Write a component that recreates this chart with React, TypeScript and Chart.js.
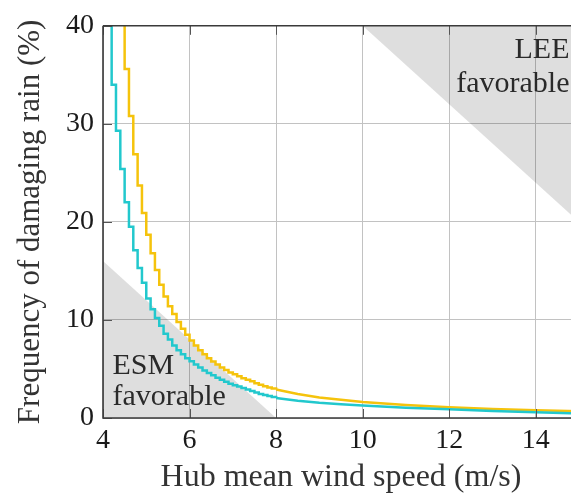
import React, { useEffect, useRef } from 'react';
import { Chart, registerables } from 'chart.js';

Chart.register(...registerables);

// Wind speed (m/s) at the start of each 0.1 m/s step
const stepSpeeds = [4.1, 4.2, 4.3, 4.4, 4.5, 4.6, 4.7, 4.8, 4.9, 5.0, 5.1, 5.2, 5.3, 5.4, 5.5, 5.6, 5.7, 5.8, 5.9, 6.0,
  6.1, 6.2, 6.3, 6.4, 6.5, 6.6, 6.7, 6.8, 6.9, 7.0, 7.1, 7.2, 7.3, 7.4, 7.5, 7.6, 7.7, 7.8, 7.9, 8.0];
// Frequency of damaging rain (%) - cyan series, stepped part
const cyanStep = [42, 34.0, 29.3, 25.4, 22.0, 19.5, 17.1, 15.3, 13.8, 12.2, 11.1, 10.2, 9.4, 8.6, 8.0, 7.4, 6.9, 6.5, 6.1, 5.8,
  5.45, 5.15, 4.85, 4.6, 4.35, 4.1, 3.9, 3.7, 3.5, 3.35, 3.2, 3.05, 2.9, 2.75, 2.6, 2.45, 2.35, 2.25, 2.15, 2.05];
// Frequency of damaging rain (%) - gold series, stepped part
const goldStep = [null, null, null, 44, 35.6, 30.8, 26.9, 23.7, 20.9, 18.7, 16.8, 15.1, 13.6, 12.4, 11.4, 10.6, 9.8, 9.1, 8.5, 7.9,
  7.4, 6.9, 6.5, 6.1, 5.75, 5.45, 5.15, 4.9, 4.65, 4.45, 4.25, 4.05, 3.9, 3.75, 3.55, 3.4, 3.25, 3.1, 3.0, 2.9];

// Smooth tail at higher wind speeds
const tailSpeeds = [8.0, 8.5, 9.0, 9.5, 10, 11, 12, 13, 14, 15];
const cyanTail = [2.05, 1.75, 1.55, 1.4, 1.28, 1.05, 0.88, 0.72, 0.58, 0.45];
const goldTail = [2.9, 2.45, 2.1, 1.85, 1.62, 1.32, 1.1, 0.93, 0.8, 0.7];

// Shaded regions (boundary lines)
const esmSpeeds = [4, 8];
const esmBound = [16, 0];
const leeSpeeds = [10, 15];
const leeBound = [40, 20];

const xTicks = [4, 6, 8, 10, 12, 14];
const yTicks = [0, 10, 20, 30, 40];

const CYAN = '#22c8cd';
const GOLD = '#f5c30c';
const SHADE = 'rgba(0,0,0,0.13)';
const FONT = '"Liberation Serif", "Times New Roman", serif';

const zip = (xs: number[], ys: (number | null)[]) => xs.map((x, i) => ({ x, y: ys[i] }));

const framePlugin = {
  id: 'frame',
  afterDatasetsDraw(chart: any) {
    const { ctx, chartArea: a, scales } = chart;
    const sx = scales.x;
    const sy = scales.y;
    ctx.save();
    // annotations
    ctx.fillStyle = '#2a2a2a';
    ctx.font = `30px ${FONT}`;
    ctx.textBaseline = 'alphabetic';
    ctx.textAlign = 'left';
    ctx.fillText('ESM', sx.getPixelForValue(4.22), sy.getPixelForValue(4.5));
    ctx.fillText('favorable', sx.getPixelForValue(4.22), sy.getPixelForValue(1.3));
    ctx.textAlign = 'right';
    ctx.fillText('LEE', sx.getPixelForValue(14.78), sy.getPixelForValue(36.7));
    ctx.fillText('favorable', sx.getPixelForValue(14.78), sy.getPixelForValue(33.2));

    // tick marks (inward)
    ctx.strokeStyle = '#555';
    ctx.lineWidth = 1;
    ctx.beginPath();
    xTicks.forEach((v) => {
      const px = Math.round(sx.getPixelForValue(v)) + 0.5;
      ctx.moveTo(px, a.bottom);
      ctx.lineTo(px, a.bottom - 9);
      ctx.moveTo(px, a.top);
      ctx.lineTo(px, a.top + 9);
    });
    yTicks.forEach((v) => {
      const py = Math.round(sy.getPixelForValue(v)) + 0.5;
      ctx.moveTo(a.left, py);
      ctx.lineTo(a.left + 9, py);
    });
    ctx.stroke();

    // axis frame
    ctx.strokeStyle = '#3a3a3a';
    ctx.lineWidth = 1.6;
    ctx.beginPath();
    ctx.moveTo(a.left, a.top);
    ctx.lineTo(a.right + 2, a.top);
    ctx.moveTo(a.left, a.top);
    ctx.lineTo(a.left, a.bottom);
    ctx.lineTo(a.right + 2, a.bottom);
    ctx.stroke();
    ctx.restore();
  },
};

export default function App() {
  const ref = useRef<HTMLCanvasElement | null>(null);

  useEffect(() => {
    if (!ref.current) return;
    const chart = new Chart(ref.current, {
      type: 'line',
      data: {
        datasets: [
          {
            label: 'cyan',
            data: zip(stepSpeeds, cyanStep),
            borderColor: CYAN,
            borderWidth: 2.5,
            pointRadius: 0,
            stepped: true,
            fill: false,
            order: 0,
          },
          {
            label: 'cyan tail',
            data: zip(tailSpeeds, cyanTail),
            borderColor: CYAN,
            borderWidth: 2.5,
            pointRadius: 0,
            fill: false,
            order: 0,
          },
          {
            label: 'gold',
            data: zip(stepSpeeds, goldStep),
            borderColor: GOLD,
            borderWidth: 2.5,
            pointRadius: 0,
            stepped: true,
            spanGaps: false,
            fill: false,
            order: 1,
          },
          {
            label: 'gold tail',
            data: zip(tailSpeeds, goldTail),
            borderColor: GOLD,
            borderWidth: 2.5,
            pointRadius: 0,
            fill: false,
            order: 1,
          },
          {
            label: 'ESM favorable',
            data: zip(esmSpeeds, esmBound),
            borderWidth: 0,
            borderColor: 'rgba(0,0,0,0)',
            backgroundColor: SHADE,
            pointRadius: 0,
            fill: 'origin',
            order: 5,
          },
          {
            label: 'LEE favorable',
            data: zip(leeSpeeds, leeBound),
            borderWidth: 0,
            borderColor: 'rgba(0,0,0,0)',
            backgroundColor: SHADE,
            pointRadius: 0,
            fill: 'end',
            order: 5,
          },
        ],
      },
      options: {
        animation: false,
        responsive: false,
        maintainAspectRatio: false,
        layout: { padding: { top: 22, right: 0, bottom: 0, left: 0 } },
        plugins: {
          legend: { display: false },
          tooltip: { enabled: false },
        },
        scales: {
          x: {
            type: 'linear',
            min: 4,
            max: 15,
            afterBuildTicks: (s: any) => {
              s.ticks = xTicks.map((v) => ({ value: v }));
            },
            afterFit: (s: any) => {
              s.height = 76;
            },
            grid: { color: '#c2c2c2', lineWidth: 1, drawTicks: false },
            border: { display: false },
            ticks: {
              color: '#1a1a1a',
              font: { family: FONT, size: 28 },
              padding: 6,
              maxRotation: 0,
            },
            title: {
              display: true,
              text: 'Hub mean wind speed (m/s)',
              color: '#333',
              font: { family: FONT, size: 32, lineHeight: 1 },
              padding: { top: 0, bottom: 0 },
            },
          },
          y: {
            type: 'linear',
            min: 0,
            max: 40,
            afterBuildTicks: (s: any) => {
              s.ticks = yTicks.map((v) => ({ value: v }));
            },
            afterFit: (s: any) => {
              s.width = 103;
            },
            grid: { color: '#c2c2c2', lineWidth: 1, drawTicks: false },
            border: { display: false },
            ticks: {
              color: '#1a1a1a',
              font: { family: FONT, size: 28 },
              padding: 9,
            },
            title: {
              display: true,
              text: 'Frequency of damaging rain (%)',
              color: '#333',
              font: { family: FONT, size: 31, lineHeight: 1 },
              padding: { top: 15, bottom: 0 },
            },
          },
        },
      },
      plugins: [framePlugin],
    });
    return () => chart.destroy();
  }, []);

  return (
    <div style={{ position: 'fixed', left: 0, top: 0, width: 571, height: 494, overflow: 'hidden', background: '#fff' }}>
      <canvas ref={ref} width={579} height={494} style={{ width: 579, height: 494, display: 'block' }} />
    </div>
  );
}
